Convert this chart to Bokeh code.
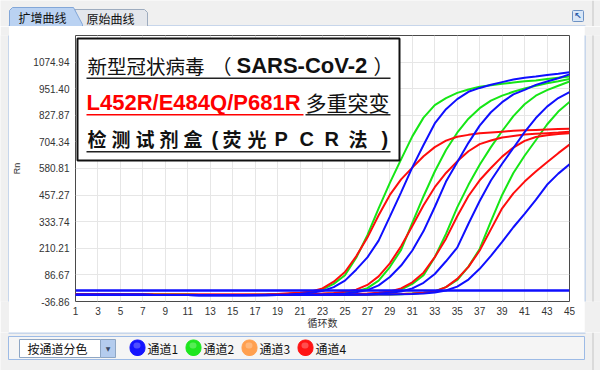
from bokeh.plotting import figure
from bokeh.layouts import column, row
from bokeh.models import FixedTicker, NumeralTickFormatter, BoxAnnotation, Label, Range1d, PolyAnnotation
from bokeh.embed import file_html
from bokeh.resources import INLINE

# ---------------- data ----------------
CYCLES = list(range(1, 46))
X_TICKS = list(range(1, 46, 2))
Y_TICKS = [-36.86, 86.67, 210.21, 333.74, 457.27, 580.81, 704.34, 827.87, 951.40, 1074.94]
Y_MIN, Y_MAX = -36.86, 1198.44

# channel 1 (blue)
B1 = [-5,-5,-5,-6,-6,-6,-6,-7,-7,-7, -7,-8,-8,-8,-8,-8,-7,-6,-5,-4,
      -1,4,12,30,60,111,168,246,357,470, 586,690,790,856,903,937,955,970,982,994,
      1002,1008,1015,1021,1028]
B2 = [-5,-5,-5,-6,-6,-6,-6,-7,-7,-7, -7,-8,-8,-8,-8,-8,-8,-7,-7,-6,
      -6,-5,-4,-2,0,6,16,38,77,130, 200,290,402,520,610,700,780,842,889,925,
      946,969,985,1000,1018]
B3 = [-5,-5,-5,-6,-6,-6,-6,-7,-7,-7, -7,-8,-8,-8,-8,-8,-8,-8,-7,-7,
      -7,-6,-6,-5,-5,-4,-3,0,4,10, 24,50,91,150,213,324,430,525,603,676,
      750,815,868,908,936]
B4 = [-5,-5,-5,-6,-6,-6,-6,-7,-7,-7, -7,-8,-8,-8,-8,-8,-8,-8,-7,-7,
      -7,-7,-6,-6,-6,-5,-5,-4,-4,-3, -2,0,5,14,32,65,115,175,240,308,
      370,435,505,557,600]
NTC_BLUE = [14,14,14,14,14,14,14,14,14,14, 14,14,14,14,14,14,14,14,14,14,
            14,14,14,14,14,14,14,14,14,14, 14,14,14,14,14,14,14,14,14,14,
            14,14,14,14,14]
# channel 2 (green)
G1 = [-4,-4,-4,-5,-5,-5,-5,-6,-6,-6, -6,-7,-7,-7,-7,-7,-6,-5,-3,-1,
      2,7,19,45,85,166,271,396,514,623, 730,817,875,908,932,948,961,967,974,980,
      986,990,996,1002,1008]
G2 = [-4,-4,-4,-5,-5,-5,-5,-6,-6,-6, -6,-7,-7,-7,-7,-7,-7,-7,-6,-6,
      -5,-4,-2,0,4,10,25,60,123,203, 328,452,567,667,747,812,861,896,919,937,
      952,965,977,986,996]
G3 = [-4,-4,-4,-5,-5,-5,-5,-6,-6,-6, -6,-7,-7,-7,-7,-7,-7,-7,-7,-6,
      -6,-6,-6,-5,-5,-4,-3,0,5,18, 45,85,169,277,400,505,598,680,755,824,
      879,919,945,965,985]
G4 = [-4,-4,-4,-5,-5,-5,-5,-6,-6,-6, -6,-7,-7,-7,-7,-7,-7,-7,-7,-6,
      -6,-6,-6,-6,-5,-5,-5,-4,-4,-3, 0,4,10,30,63,125,207,335,458,560,
      640,712,785,845,890]
# channel 4 (red)
R1 = [-3,-3,-3,-4,-4,-4,-4,-5,-5,-5, -5,-6,-6,-6,-6,-6,-5,-4,-2,1,
      4,10,24,55,100,173,260,364,458,530, 585,638,680,710,728,737,744,748,752,756,
      758,760,762,764,765]
R2 = [-3,-3,-3,-4,-4,-4,-4,-5,-5,-5, -5,-6,-6,-6,-6,-6,-6,-5,-5,-4,
      -3,-2,0,3,8,18,40,80,140,220, 314,410,494,560,614,661,694,711,725,732,
      739,742,745,748,752]
R3 = [-3,-3,-3,-4,-4,-4,-4,-5,-5,-5, -5,-6,-6,-6,-6,-6,-6,-6,-5,-5,
      -5,-4,-4,-4,-3,-2,0,4,10,24, 52,97,169,255,359,453,526,583,636,678,
      709,727,735,741,745]
R4 = [-3,-3,-3,-4,-4,-4,-4,-5,-5,-5, -5,-6,-6,-6,-6,-6,-6,-6,-6,-5,
      -5,-5,-5,-5,-4,-4,-4,-3,-3,-2, 0,4,10,30,68,124,200,298,396,465,
      520,567,610,652,692]

LEGEND_NAMES = ["通道1", "通道2", "通道3", "通道4"]
LEGEND_COLORS = ["#1414ff", "#1ee61e", "#ffa050", "#ff1414"]
TABS = ["扩增曲线", "原始曲线"]
DROPDOWN = "按通道分色"

BLUE, GREEN, RED = "#0f0fff", "#16e616", "#ff0d0d"
GRAY_BG = "#f0f0f0"
PANEL_LINE = "#9dbbe6"
CJK = "Noto Sans CJK SC"
LAT = "Liberation Sans"


def plain_fig(w, h, bg=GRAY_BG):
    f = figure(width=w, height=h, output_backend="svg", toolbar_location=None,
               x_axis_location=None, y_axis_location=None,
               x_range=Range1d(0, w), y_range=Range1d(h, 0),
               min_border=0, min_border_left=0, min_border_right=0,
               min_border_top=0, min_border_bottom=0,
               background_fill_color=bg, border_fill_color=bg, outline_line_color=None)
    f.grid.visible = False
    return f


def cbox(f, l, t, r, b, ox=0, oy=0, **kw):
    kw.setdefault("fill_alpha", 1.0)
    kw.setdefault("line_alpha", 1.0)
    f.add_layout(BoxAnnotation(left=l - ox, right=r - ox, top=t - oy, bottom=b - oy,
                               left_units="canvas", right_units="canvas",
                               top_units="canvas", bottom_units="canvas", **kw))


def clabel(f, x, y, text, ox=0, oy=0, **kw):
    f.add_layout(Label(x=x - ox, y=y - oy, x_units="canvas", y_units="canvas", text=text, **kw))


def cpoly(f, xs, ys, ox=0, oy=0, **kw):
    f.add_layout(PolyAnnotation(xs=[x - ox for x in xs], ys=[y - oy for y in ys],
                                xs_units="canvas", ys_units="canvas", **kw))


# ================= top strip (tabs) : page y 0..26 =================
top = plain_fig(600, 26)
cbox(top, 8, 25, 585, 26, fill_color=PANEL_LINE, line_color=None)
cbox(top, 592, 0, 593, 26, fill_color="#c4c4c4", line_color=None)
cpoly(top, [74, 144, 147, 147, 81], [9, 9, 12, 26, 26],
      fill_color="#e4e7ec", fill_alpha=1, line_color="#9eacbf", line_alpha=1, line_width=1)
cpoly(top, [9, 9, 12, 73, 82, 82], [26, 10, 7, 7, 24, 26],
      fill_color="#bad2f2", fill_alpha=1, line_color="#83a7d8", line_alpha=1, line_width=1)
clabel(top, 42, 17, TABS[0], text_font=CJK, text_font_size="12px",
       text_color="#111111", text_align="center", text_baseline="middle")
clabel(top, 110, 18, TABS[1], text_font=CJK, text_font_size="12px",
       text_color="#111111", text_align="center", text_baseline="middle")
cbox(top, 572, 10, 583, 21, fill_color="#d8e6f7", line_color="#6d92c4", border_radius=1)
clabel(top, 577.5, 15.5, "↖", text_font="DejaVu Sans", text_font_size="9px", text_font_style="bold",
       text_color="#2a5aa8", text_align="center", text_baseline="middle")

# ================= left / right strips : page y 26..332 =================
MID_H = 306
left = plain_fig(9, MID_H)
cbox(left, 8, 26, 9, 332, oy=26, fill_color=PANEL_LINE, line_color=None)
right = plain_fig(16, MID_H)
cbox(right, 584, 26, 585, 332, ox=584, oy=26, fill_color=PANEL_LINE, line_color=None)
cbox(right, 592, 26, 593, 332, ox=584, oy=26, fill_color="#c4c4c4", line_color=None)

# ================= main chart : page x 9..584, y 26..332 =================
OX, OY = 9, 26
p = figure(width=575, height=MID_H, output_backend="svg", toolbar_location=None,
           x_range=Range1d(1, 45), y_range=Range1d(Y_MIN, Y_MAX),
           min_border_left=64, min_border_right=15, min_border_top=9, min_border_bottom=30,
           background_fill_color="white", border_fill_color="white",
           outline_line_color="#4a4a4a", outline_line_width=1)

p.xaxis.ticker = FixedTicker(ticks=X_TICKS)
p.yaxis.ticker = FixedTicker(ticks=Y_TICKS)
p.yaxis.formatter = NumeralTickFormatter(format="0.00")
for ax in (p.xaxis[0], p.yaxis[0]):
    ax.axis_line_color = None
    ax.major_tick_line_color = None
    ax.minor_tick_line_color = None
    ax.major_tick_out = 0
    ax.minor_tick_out = 0
    ax.major_tick_in = 0
    ax.minor_tick_in = 0
    ax.major_label_text_font = LAT
    ax.major_label_text_font_size = "10px"
    ax.major_label_text_color = "#333333"
    ax.axis_label_text_font_style = "normal"
    ax.axis_label_text_color = "#333333"
p.yaxis.major_label_standoff = 6
p.xaxis.major_label_standoff = 5
p.xaxis.axis_label = "循环数"
p.xaxis.axis_label_text_font = CJK
p.xaxis.axis_label_text_font_size = "10px"
p.xaxis.axis_label_standoff = -3
p.yaxis.axis_label = "Rn"
p.yaxis.axis_label_text_font = LAT
p.yaxis.axis_label_text_font_size = "9px"
p.yaxis.axis_label_standoff = 8
p.xgrid.ticker = FixedTicker(ticks=X_TICKS)
p.ygrid.ticker = FixedTicker(ticks=Y_TICKS)
p.grid.grid_line_color = "#e6e6e6"
p.grid.grid_line_width = 1

for s in (G1, G2, G3, G4):
    p.line(CYCLES, s, line_color=GREEN, line_width=2)
for s in (R1, R2, R3, R4):
    p.line(CYCLES, s, line_color=RED, line_width=2)
for s in (B1, B2, B3, B4):
    p.line(CYCLES, s, line_color=BLUE, line_width=2)
p.line(CYCLES, NTC_BLUE, line_color=BLUE, line_width=2.5)

# title box
cbox(p, 77, 38, 399, 160, OX, OY, fill_color="white", line_color="#111111", line_width=2)

TXT_DY = -9


def tl(x, y, t, font, size, color="#111111", style="normal"):
    clabel(p, x, y + TXT_DY, t, OX, OY, text_font=font, text_font_size=size, text_color=color,
           text_font_style=style, text_align="left", text_baseline="alphabetic")


tl(87, 74, "新型冠状病毒", CJK, "19.5px")
tl(211, 74, "（", CJK, "20px")
tl(236, 74, "SARS-CoV-2", LAT, "22px", style="bold")
tl(373, 74, "）", CJK, "20px")
cbox(p, 86, 77, 390, 78.5, OX, OY, fill_color="#222222", line_color=None)

tl(86, 111, "L452R/E484Q/P681R", LAT, "22px", color="#ff0000", style="bold")
tl(305, 110, "多重突变", CJK, "21px")
cbox(p, 86, 113.5, 303, 115, OX, OY, fill_color="#ff0000", line_color=None)
cbox(p, 305, 113.5, 390, 115, OX, OY, fill_color="#222222", line_color=None)

L3 = [("检", 87, CJK), ("测", 111, CJK), ("试", 135, CJK), ("剂", 159, CJK), ("盒", 183, CJK),
      ("(", 211, LAT), ("荧", 222, CJK), ("光", 247, CJK), ("P", 274, LAT), ("C", 299, LAT),
      ("R", 324, LAT), ("法", 348, CJK), (")", 381, LAT)]
for ch, x, f in L3:
    tl(x, 147, ch, f, "19px" if f == CJK else "20px", style="bold")
cbox(p, 86, 150.5, 390, 152, OX, OY, fill_color="#222222", line_color=None)

# ================= bottom strip (legend bar) : page y 332..370 =================
BY = 332
bot = plain_fig(600, 370 - BY)
cbox(bot, 8, 332, 585, 333, 0, BY, fill_color=PANEL_LINE, line_color=None)
cbox(bot, 592, 332, 593, 370, 0, BY, fill_color="#c4c4c4", line_color=None)
cbox(bot, 8, 336, 584, 359, 0, BY, fill_color="#f5f5f5", line_color=PANEL_LINE, line_width=1)
cbox(bot, 19, 339, 100, 357, 0, BY, fill_color="white", line_color="#8ea6c4")
cbox(bot, 100, 339, 115, 357, 0, BY, fill_color="#b4ccee", line_color="#8ea6c4")
clabel(bot, 107.5, 348, "▼", 0, BY, text_font="DejaVu Sans", text_font_size="6px",
       text_color="#3a4a66", text_align="center", text_baseline="middle")
clabel(bot, 27, 348, DROPDOWN, 0, BY, text_font=CJK, text_font_size="12px",
       text_color="#111111", text_align="left", text_baseline="middle")
for i, (name, col) in enumerate(zip(LEGEND_NAMES, LEGEND_COLORS)):
    cx = 137 + 56 * i
    cbox(bot, cx - 7.5, 339.5, cx + 7.5, 355, 0, BY, fill_color=col, line_color=col, border_radius=7)
    cbox(bot, cx - 4, 342, cx + 3, 348, 0, BY, fill_color="white", fill_alpha=0.25,
         line_color=None, border_radius=4)
    clabel(bot, cx + 10, 348, name, 0, BY, text_font=CJK, text_font_size="12px",
           text_color="#111111", text_align="left", text_baseline="middle")

layout = column(top, row(left, p, right, spacing=0), bot, spacing=0)
open("out.html", "w").write(file_html(layout, INLINE))
